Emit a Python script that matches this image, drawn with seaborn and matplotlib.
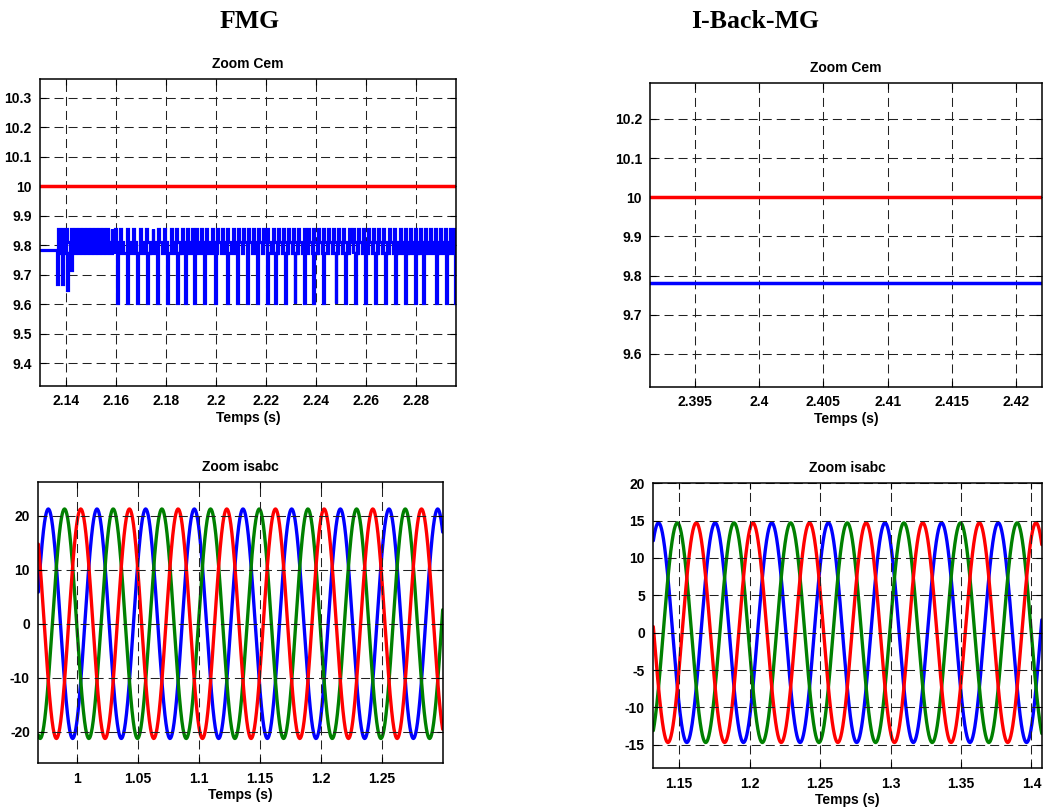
import numpy as np
import pandas as pd
import matplotlib
matplotlib.use("Agg")
import matplotlib.pyplot as plt
import seaborn as sns

# ---------------------------------------------------------------- data
# FMG - electromagnetic torque (zoom)
cem_ref = 10.0
cem_pre = 9.783          # level before the switching starts
cem_base = 9.773         # lower edge of the chattering band
cem_mid = 9.810          # upper edge of the chattering band
cem_high = 9.855         # top of the upward pulses
cem_low = 9.605          # bottom of the downward dips
early_dip_times = [2.1364, 2.1384, 2.1404, 2.1421]
early_dip_levels = [9.670, 9.670, 9.648, 9.716]
up_pulse_times = [
    2.1369, 2.1385, 2.1403, 2.1421, 2.1437, 2.1453, 2.1469, 2.1485, 2.1501,
    2.1517, 2.1533, 2.1549, 2.1565, 2.1583, 2.1597, 2.1617, 2.1645, 2.1669,
    2.1695, 2.1723, 2.1747, 2.1771, 2.1793, 2.1819, 2.1843, 2.1864, 2.1884,
    2.1904, 2.1921, 2.1940, 2.1961, 2.1984, 2.2006, 2.2024, 2.2046, 2.2068,
    2.2090, 2.2110, 2.2130, 2.2148, 2.2170, 2.2190, 2.2206, 2.2230, 2.2250,
    2.2270, 2.2290, 2.2310, 2.2330, 2.2353, 2.2370, 2.2390, 2.2410, 2.2430,
    2.2450, 2.2470, 2.2490, 2.2510, 2.2534, 2.2550, 2.2570, 2.2588, 2.2610,
    2.2630, 2.2650, 2.2670, 2.2694, 2.2713, 2.2737, 2.2757, 2.2777, 2.2797,
    2.2817, 2.2837, 2.2857, 2.2877, 2.2897, 2.2917, 2.2937, 2.2954,
]
dip_times = [
    2.1606, 2.1644, 2.1684, 2.1726, 2.1766, 2.1804, 2.1844, 2.1877, 2.1913,
    2.1954, 2.1999, 2.2044, 2.2085, 2.2125, 2.2165, 2.2204, 2.2238, 2.2277,
    2.2315, 2.2351, 2.2390, 2.2427, 2.2479, 2.2518, 2.2557, 2.2597, 2.2637,
    2.2676, 2.2716, 2.2757, 2.2797, 2.2829, 2.2879, 2.2919, 2.2957,
]

# I-Back-MG - electromagnetic torque (zoom)
cem2_ref = 10.0
cem2_value = 9.78

# Stator currents isabc (three balanced phases: blue, green, red)
fmg_amp = 21.2
fmg_period = 0.0399
fmg_first_peak = 0.9767       # first crest of the blue phase
ib_amp = 14.7
ib_period = 0.0402
ib_first_peak = 1.1353

# axes ranges and ticks
cem_xlim = (2.1297, 2.2961)
cem_ylim = (9.324, 10.362)
cem_xticks = [2.14, 2.16, 2.18, 2.20, 2.22, 2.24, 2.26, 2.28]
cem_xlabels = ["2.14", "2.16", "2.18", "2.2", "2.22", "2.24", "2.26", "2.28"]
cem_yticks = [9.4, 9.5, 9.6, 9.7, 9.8, 9.9, 10.0, 10.1, 10.2, 10.3]
cem_ylabels = ["9.4", "9.5", "9.6", "9.7", "9.8", "9.9", "10", "10.1", "10.2", "10.3"]

cem2_xlim = (2.39153, 2.4220)
cem2_ylim = (9.5165, 10.291)
cem2_xticks = [2.395, 2.400, 2.405, 2.410, 2.415, 2.420]
cem2_xlabels = ["2.395", "2.4", "2.405", "2.41", "2.415", "2.42"]
cem2_yticks = [9.6, 9.7, 9.8, 9.9, 10.0, 10.1, 10.2]
cem2_ylabels = ["9.6", "9.7", "9.8", "9.9", "10", "10.1", "10.2"]

is_xlim = (0.9685, 1.3000)
is_ylim = (-25.8, 26.2)
is_xticks = [1.00, 1.05, 1.10, 1.15, 1.20, 1.25]
is_xlabels = ["1", "1.05", "1.1", "1.15", "1.2", "1.25"]
is_yticks = [-20, -10, 0, 10, 20]
is_ylabels = ["-20", "-10", "0", "10", "20"]

is2_xlim = (1.1316, 1.4074)
is2_ylim = (-18.16, 20.0)
is2_xticks = [1.15, 1.20, 1.25, 1.30, 1.35, 1.40]
is2_xlabels = ["1.15", "1.2", "1.25", "1.3", "1.35", "1.4"]
is2_yticks = [-15, -10, -5, 0, 5, 10, 15, 20]
is2_ylabels = ["-15", "-10", "-5", "0", "5", "10", "15", "20"]

BLUE, RED, GREEN = "#0000ff", "#ff0000", "#008000"

# ---------------------------------------------------------------- style
sns.set_theme(style="white")
plt.rcParams["font.family"] = ["Liberation Sans", "DejaVu Sans"]
plt.rcParams["lines.scale_dashes"] = False
plt.rcParams["lines.solid_joinstyle"] = "miter"
for key in ("text.color", "axes.labelcolor", "xtick.color", "ytick.color",
            "axes.edgecolor"):
    plt.rcParams[key] = "black"


def torque_trace():
    """Step trace of the switching torque built from the event lists."""
    events = []
    for t, lv in zip(early_dip_times, early_dip_levels):
        events.append((t, "dip", lv))
    for t in up_pulse_times:
        events.append((t, "up", cem_high))
    for t in dip_times:
        events.append((t, "dip", cem_low))
    events.sort(key=lambda e: e[0])

    ts, vs = [cem_xlim[0], events[0][0]], [cem_pre, cem_pre]
    for t, kind, lv in events:
        if kind == "up":
            w, hold = 0.0004, 0.0010
            ts += [t, t, t + w, t + w, t + w + hold, t + w + hold]
            vs += [cem_base, lv, lv, cem_mid, cem_mid, cem_base]
        else:
            w = 0.0004
            ts += [t, t, t + w, t + w]
            vs += [cem_base, lv, lv, cem_base]
    ts.append(cem_xlim[1])
    vs.append(cem_base)
    return pd.DataFrame({"t": ts, "v": vs})


def three_phase(xlim, amp, period, peak):
    t = np.linspace(xlim[0], xlim[1], 3000)
    rows = []
    for k, name in enumerate(["a", "b", "c"]):
        rows.append(pd.DataFrame({
            "t": t,
            "i": amp * np.cos(2 * np.pi * (t - peak) / period - 2 * np.pi * k / 3),
            "phase": name,
        }))
    return pd.concat(rows, ignore_index=True)


def style_axes(ax, title, xlim, ylim, xt, xl, yt, yl):
    ax.set_xlim(*xlim)
    ax.set_ylim(*ylim)
    ax.set_xticks(xt)
    ax.set_xticklabels(xl)
    ax.set_yticks(yt)
    ax.set_yticklabels(yl)
    ax.tick_params(direction="in", length=4, width=0.8, colors="black",
                   labelsize=10, pad=6, top=True, right=True,
                   bottom=True, left=True)
    for lab in ax.get_xticklabels() + ax.get_yticklabels():
        lab.set_fontweight("bold")
        lab.set_color("black")
    ax.set_title(title, fontsize=10, fontweight="bold", pad=8, color="black")
    ax.set_xlabel("Temps (s)", fontsize=10, fontweight="bold", labelpad=2,
                  color="black")
    ax.set_ylabel("")
    ax.grid(True, color="#222222", linestyle=(0, (6.5, 3.6)), linewidth=0.75)
    ax.set_axisbelow(False)
    for sp in ax.spines.values():
        sp.set_color("black")
        sp.set_linewidth(1.1)
        sp.set_zorder(5)
    leg = ax.get_legend()
    if leg is not None:
        leg.remove()


fig = plt.figure(figsize=(10.43, 8.07), dpi=100)
W, H = 1043.0, 807.0


def add_axes(x0, y0, x1, y1):
    return fig.add_axes([x0 / W, 1 - y1 / H, (x1 - x0) / W, (y1 - y0) / H])


ax1 = add_axes(40, 79.3, 456, 385.7)
ax2 = add_axes(650.3, 83.3, 1041.8, 386.7)
ax3 = add_axes(38.3, 482, 442.7, 763.3)
ax4 = add_axes(653.3, 483.3, 1041.8, 768.3)

# FMG torque
trace = torque_trace()
sns.lineplot(data=trace, x="t", y="v", ax=ax1, estimator=None, sort=False,
             color=BLUE, linewidth=2.3, zorder=3)
ref = pd.DataFrame({"t": list(cem_xlim), "v": [cem_ref, cem_ref]})
sns.lineplot(data=ref, x="t", y="v", ax=ax1, estimator=None, sort=False,
             color=RED, linewidth=2.5, zorder=3)
style_axes(ax1, "Zoom Cem", cem_xlim, cem_ylim, cem_xticks, cem_xlabels,
           cem_yticks, cem_ylabels)

# I-Back-MG torque
ref2 = pd.DataFrame({"t": list(cem2_xlim), "v": [cem2_ref, cem2_ref]})
val2 = pd.DataFrame({"t": list(cem2_xlim), "v": [cem2_value, cem2_value]})
sns.lineplot(data=ref2, x="t", y="v", ax=ax2, estimator=None, color=RED,
             linewidth=2.5, zorder=3)
sns.lineplot(data=val2, x="t", y="v", ax=ax2, estimator=None, color=BLUE,
             linewidth=2.5, zorder=3)
style_axes(ax2, "Zoom Cem", cem2_xlim, cem2_ylim, cem2_xticks, cem2_xlabels,
           cem2_yticks, cem2_ylabels)

# currents
palette = {"a": BLUE, "b": GREEN, "c": RED}
cur1 = three_phase(is_xlim, fmg_amp, fmg_period, fmg_first_peak)
sns.lineplot(data=cur1, x="t", y="i", hue="phase", palette=palette, ax=ax3,
             estimator=None, linewidth=2.4)
style_axes(ax3, "Zoom isabc", is_xlim, is_ylim, is_xticks, is_xlabels,
           is_yticks, is_ylabels)

cur2 = three_phase(is2_xlim, ib_amp, ib_period, ib_first_peak)
sns.lineplot(data=cur2, x="t", y="i", hue="phase", palette=palette, ax=ax4,
             estimator=None, linewidth=2.4)
style_axes(ax4, "Zoom isabc", is2_xlim, is2_ylim, is2_xticks, is2_xlabels,
           is2_yticks, is2_ylabels)

# column headers
fig.text(249.3 / W, 1 - 21.3 / H, "FMG", family=["Liberation Serif", "DejaVu Serif"],
         fontweight="bold", fontsize=18.5, ha="center", va="center", color="black")
fig.text(755 / W, 1 - 22 / H, "I-Back-MG", family=["Liberation Serif", "DejaVu Serif"],
         fontweight="bold", fontsize=18.5, ha="center", va="center", color="black")

fig.savefig("out.png", dpi=100, facecolor="white")
